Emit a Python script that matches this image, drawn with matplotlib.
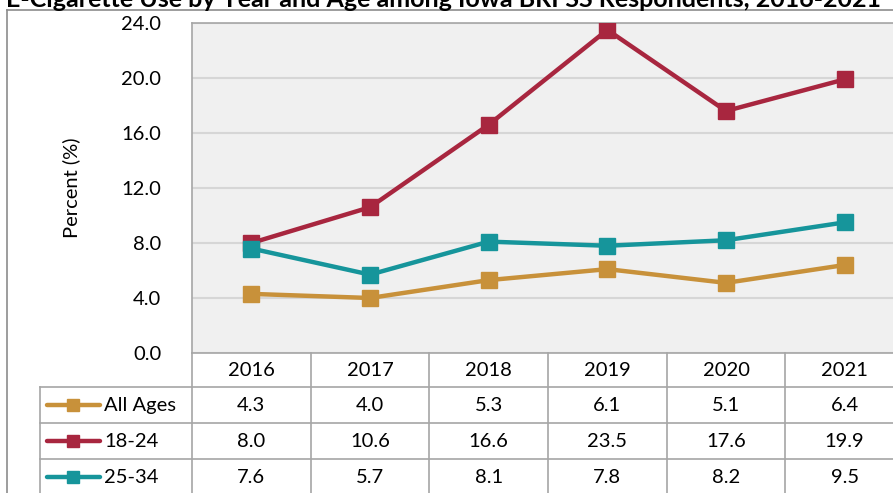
import numpy as np
import matplotlib.pyplot as plt
from matplotlib.lines import Line2D

plt.rcParams['font.family'] = ['Lato', 'DejaVu Sans']

# data
years = ['2016', '2017', '2018', '2019', '2020', '2021']
series_names = ['All Ages', '18-24', '25-34']
all_ages = [4.3, 4.0, 5.3, 6.1, 5.1, 6.4]
age_18_24 = [8.0, 10.6, 16.6, 23.5, 17.6, 19.9]
age_25_34 = [7.6, 5.7, 8.1, 7.8, 8.2, 9.5]
colors = ['#C8913A', '#A8263F', '#16959B']
title = 'E-Cigarette Use by Year and Age among Iowa BRFSS Respondents, 2016-2021'

W, H = 893, 493
fig = plt.figure(figsize=(W / 100, H / 100), dpi=100)

def fx(px):
    return px / W

def fy(py):
    return 1 - py / H

# layout in pixels
left, right = 192, 904
top, bottom = 23, 353
lab_left = 40
rows = [353, 387, 423, 459, 495]
grid_c = '#A6A6A6'
fs = 14.5

ax = fig.add_axes([fx(left), fy(bottom), fx(right - left), (bottom - top) / H])
ax.set_facecolor('#F0F0F0')
x = np.arange(len(years))
series = [all_ages, age_18_24, age_25_34]
for vals, c in zip(series, colors):
    ax.plot(x, vals, color=c, lw=3.2, marker='s', ms=11, zorder=3)
ax.set_xlim(-0.5, len(years) - 0.5)
ax.set_ylim(0, 24)
ax.set_yticks(np.arange(0, 24.1, 4))
ax.set_yticklabels(['%.1f' % v for v in np.arange(0, 24.1, 4)], fontsize=fs)
ax.set_xticks([])
ax.tick_params(axis='y', length=0, pad=22)
ax.yaxis.grid(True, color='#D6D6D6', lw=1.5)
ax.set_axisbelow(True)
for s in ax.spines.values():
    s.set_color(grid_c)
    s.set_linewidth(1.2)
ax.set_ylabel('Percent (%)', fontsize=fs, labelpad=30)

# data table
cw = (right - left) / len(years)
tax = fig.add_axes([fx(lab_left), fy(rows[-1]), fx(right - lab_left), (rows[-1] - rows[0]) / H])
tax.set_xlim(lab_left, right)
tax.set_ylim(rows[-1], rows[0])
tax.axis('off')
for r in rows[1:-1]:
    tax.plot([lab_left, right], [r, r], color=grid_c, lw=1.2, clip_on=False)
tax.plot([lab_left, lab_left], [rows[1], rows[-1]], color=grid_c, lw=1.2, clip_on=False)
for i in range(len(years) + 1):
    xx = left + i * cw
    tax.plot([xx, xx], [rows[0], rows[-1]], color=grid_c, lw=1.2, clip_on=False)

for i, yr in enumerate(years):
    xc = left + (i + 0.5) * cw
    tax.text(xc, (rows[0] + rows[1]) / 2 + 1, yr, ha='center', va='center', fontsize=fs)
    for j, vals in enumerate(series):
        tax.text(xc, (rows[j + 1] + rows[j + 2]) / 2 + 1, '%.1f' % vals[i],
                 ha='center', va='center', fontsize=fs)

for j, name in enumerate(series_names):
    yc = (rows[j + 1] + rows[j + 2]) / 2
    tax.plot([47, 100], [yc, yc], color=colors[j], lw=3.2, solid_capstyle='round')
    tax.plot([73], [yc], color=colors[j], marker='s', ms=9)
    tax.text(104, yc + 1, name, ha='left', va='center', fontsize=fs)

# outer frame
fig.add_artist(Line2D([fx(7), fx(7)], [fy(10), fy(H + 2)], color='#8C8C8C', lw=1.2))
fig.add_artist(Line2D([fx(7), fx(W + 2)], [fy(10), fy(10)], color='#8C8C8C', lw=1.2))

# title (partly cut off at the top in the original)
fig.text(fx(6), fy(7), title, ha='left', va='baseline', fontsize=18, fontweight='bold')

fig.savefig('out.png', dpi=100)
